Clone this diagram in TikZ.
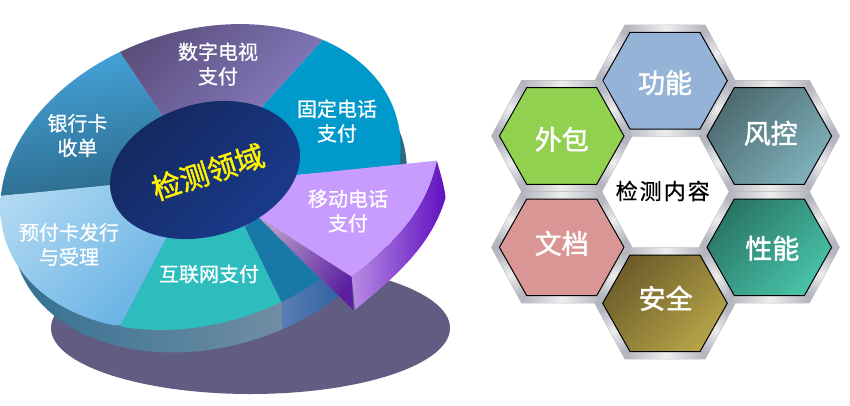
\documentclass[tikz,border=0pt]{standalone}
\usepackage{fontspec}
\setmainfont{Noto Sans CJK SC}
\newfontfamily\cjkm[FakeBold=0.7]{Noto Sans CJK SC}
\newfontfamily\cjkh[FakeBold=1.6]{Noto Sans CJK SC}
\definecolor{shadowc}{HTML}{615C82}
\definecolor{sideA}{HTML}{2F6F90}
\definecolor{sideB}{HTML}{CBD8E0}
\definecolor{sideC}{HTML}{7F94A8}
\definecolor{sideD}{HTML}{5B7DB4}
\definecolor{sideE}{HTML}{2F62A2}
\definecolor{sideF}{HTML}{2A6A80}
\definecolor{bankA}{HTML}{45A5DC}
\definecolor{bankB}{HTML}{2C6888}
\definecolor{tvA}{HTML}{5A4E7C}
\definecolor{tvB}{HTML}{9388D2}
\definecolor{fixedc}{HTML}{0099CC}
\definecolor{preA}{HTML}{B0D8F2}
\definecolor{preB}{HTML}{5FAEE3}
\definecolor{netc}{HTML}{2DBDBD}
\definecolor{dbluec}{HTML}{1878A8}
\definecolor{cenA}{HTML}{14285E}
\definecolor{cenB}{HTML}{1A3C90}
\definecolor{mobc}{HTML}{C89BFF}
\definecolor{mobA}{HTML}{B898C8}
\definecolor{mobB}{HTML}{5A1FA0}
\definecolor{mobC}{HTML}{B88CE4}
\definecolor{mobD}{HTML}{6010C0}
\definecolor{hexA}{HTML}{95B3D7}
\definecolor{hexB}{HTML}{4D6B70}
\definecolor{hexBb}{HTML}{7FB0BA}
\definecolor{hexC}{HTML}{2A7566}
\definecolor{hexCb}{HTML}{48C2A8}
\definecolor{hexD}{HTML}{6E5D2A}
\definecolor{hexDb}{HTML}{B5A348}
\definecolor{hexE}{HTML}{D99694}
\definecolor{hexF}{HTML}{92D14F}
\definecolor{metalD}{HTML}{B4B6C0}
\definecolor{metalL}{HTML}{EDEDEE}
\tikzset{
  pielabel/.style={text=white,align=center,font=\fontsize{20}{24.5}\selectfont\cjkm,inner sep=0pt},
  hexlabel/.style={text=white,font=\fontsize{27}{30}\selectfont\cjkh,inner sep=0pt},
  metal/.style={top color=metalD,bottom color=metalD,middle color=metalL},
  innerhex/.style={draw=black,line width=1pt,line join=miter},
  grad/.style n args={2}{top color=#1,bottom color=#2,shading angle=45},
  pieoutline/.style={rotate around={18:(200.5,177)}}
}
\newcommand{\hexa}[3]{%
  \begin{scope}[shift={(#1,#2)}]
    \fill[gray!55] (-70.6,0)--(-40.3,-56)--(40.3,-56)--(70.6,0)--(40.3,56)--(-40.3,56)--cycle;
    \shade[metal,shading angle=90] (-40,-55.5)--(40,-55.5)--(35,-48.3)--(-35,-48.3)--cycle;
    \shade[metal,shading angle=90] (-40,55.5)--(40,55.5)--(35,48.3)--(-35,48.3)--cycle;
    \shade[metal,shading angle=30] (40,-55.5)--(70,0)--(62.3,0)--(35,-48.3)--cycle;
    \shade[metal,shading angle=-30] (70,0)--(40,55.5)--(35,48.3)--(62.3,0)--cycle;
    \shade[metal,shading angle=30] (-40,55.5)--(-70,0)--(-62.3,0)--(-35,48.3)--cycle;
    \shade[metal,shading angle=-30] (-70,0)--(-40,-55.5)--(-35,-48.3)--(-62.3,0)--cycle;
    \path[innerhex,#3] (-62.3,0)--(-35,-48.3)--(35,-48.3)--(62.3,0)--(35,48.3)--(-35,48.3)--cycle;
  \end{scope}%
}
\begin{document}
\begin{tikzpicture}[x=1pt,y=-1pt]
\useasboundingbox (0,0) rectangle (850,405);
% shadow
\fill[shadowc] (250.5,328) ellipse [x radius=199.5,y radius=66];
% pie side
\begin{scope}
  \clip[pieoutline] (204.5,202) ellipse [x radius=205,y radius=146.3];
  \begin{scope}
    \clip (-5,170) rectangle (282,360);
    \shade[left color=sideA,middle color=sideB,right color=sideC] (-5,170) rectangle (345,360);
  \end{scope}
  \shade[left color=sideD,right color=sideE] (282,200) rectangle (342,405);
\end{scope}
\fill[sideF] (397,126) .. controls (403,138) and (406,150) .. (407,168) -- (390,168) -- cycle;
% pie top
\begin{scope}
  \clip[pieoutline] (200.5,177) ellipse [x radius=205,y radius=146.3];
  \shade[top color=bankA,bottom color=bankB,shading angle=10]
    (205,170)--(162,115)--(120,52)--(60,60)--(-10,110)--(-10,197)--(111,185)--cycle;
  \shade[grad={tvA}{tvB}]
    (205,170)--(162,115)--(120,52)--(110,10)--(350,10)--(262,107)--cycle;
  \fill[fixedc]
    (205,170)--(262,107)--(350,10)--(430,60)--(430,163)--(297,175)--cycle;
  \shade[grad={preA}{preB}]
    (205,170)--(111,185)--(-10,197)--(-10,330)--(121,325)--(166,239)--cycle;
  \fill[netc] (205,170)--(166,239)--(121,325)--(130,350)--(282,350)--(282,303)--(245,227)--cycle;
  \fill[dbluec] (245,227)--(282,303)--(322,282)--(258,217)--cycle;
\end{scope}
% mobile sector
\shade[left color=mobA,right color=mobB,shading angle=55]
  (258.3,216.7)--(351.7,276.7)--(353.3,310)--cycle;
\shade[left color=mobC,right color=mobD,shading angle=90]
  (436.7,160.7) .. controls (442,178) and (445,190) .. (445.5,198) .. controls (430,250) and (390,280) .. (355,310) -- (351.7,276.7) .. controls (390,245) and (425,215) .. cycle;
\fill[mobc] (285,176.2)--(436.7,160.7) .. controls (425,215) and (390,245) .. (351.7,276.7) -- (258.3,216.7) -- (240,190) -- cycle;
% centre
\shade[grad={cenA}{cenB},rotate around={16:(205,170)}]
  (205,170) ellipse [x radius=97,y radius=66.2];
\node[text=yellow,rotate=18,inner sep=0pt,font=\fontsize{29}{32}\selectfont\cjkh] (domain) at (208,172) {检测领域};
\node[pielabel] (tv) at (218,64) {数字电视\\支付};
\node[pielabel] (fixed) at (337,121) {固定电话\\支付};
\node[pielabel] (bank) at (77.5,135.5) {银行卡\\收单};
\node[pielabel] (prepaid) at (69,244.5) {预付卡发行\\与受理};
\node[pielabel] (net) at (209,274) {互联网支付};
\node[pielabel] (mobile) at (348,211) {移动电话\\支付};
% hexagons
\hexa{665}{80.7}{fill=hexA}
\hexa{769.3}{136}{grad={hexB}{hexBb}}
\hexa{561.7}{136}{fill=hexF}
\hexa{561.7}{247.3}{fill=hexE}
\hexa{769.3}{247.3}{grad={hexC}{hexCb}}
\hexa{665}{303.3}{grad={hexD}{hexDb}}
\node[hexlabel] (func) at (665,82.7) {功能};
\node[hexlabel] (risk) at (770.7,133.3) {风控};
\node[hexlabel] (out) at (561.7,139.3) {外包};
\node[hexlabel] (doc) at (561.7,243.3) {文档};
\node[hexlabel] (perf) at (772.3,248.3) {性能};
\node[hexlabel] (safe) at (665.7,298.3) {安全};
\node[inner sep=0pt,text=black,font=\fontsize{22}{26}\selectfont\cjkm] (content) at (662.7,191) {检\kern2pt 测\kern2pt 内\kern2pt 容};
\end{tikzpicture}
\end{document}
